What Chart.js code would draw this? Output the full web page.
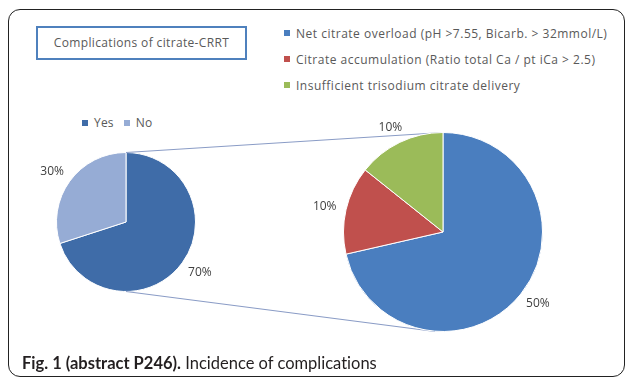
<!DOCTYPE html>
<html>
<head>
<meta charset="utf-8">
<script src="https://cdn.jsdelivr.net/npm/chart.js@4.4.0/dist/chart.umd.min.js"></script>
<style>
  body { margin: 0; background: #fff; width: 627px; height: 377px; overflow: hidden; position: relative; font-family: "Open Sans", sans-serif; }
  .frame { position: absolute; left: 8px; top: 9px; width: 615px; height: 366px; border: 1.5px solid #222; border-radius: 12px; }
  canvas { position: absolute; left: 0; top: 0; }
  .title-box { position: absolute; left: 36px; top: 26px; width: 207px; height: 30px; border: 2px solid #4f81bd; color: #595959; font-size: 12px; letter-spacing: 0.35px; line-height: 30px; text-align: center; }
  .legend { position: absolute; color: #595959; font-size: 12px; letter-spacing: 0.5px; }
  .legend .item { display: flex; align-items: center; white-space: nowrap; }
  .legend .box { width: 6px; height: 6px; margin-right: 6px; }
  #yesNo { left: 82px; top: 114px; display: flex; letter-spacing: 0.2px; }
  #yesNo .item { margin-right: 10px; }
  #causes { left: 284px; top: 20px; }
  #causes .item { height: 26px; }
  .caption { position: absolute; left: 22px; top: 353px; font-family: Lato, sans-serif; font-size: 16.5px; color: #231f20; font-variant-ligatures: none; }
</style>
</head>
<body>
<div class="frame"></div>
<div class="title-box">Complications of citrate-CRRT</div>
<div class="legend" id="yesNo"></div>
<div class="legend" id="causes"></div>
<canvas id="mainPie" width="627" height="377"></canvas>
<canvas id="detailPie" width="627" height="377"></canvas>
<div class="caption"><b>Fig. 1 (abstract P246).</b> Incidence of complications</div>

<script>
const mainLabels = ["Yes", "No"];
const mainValues = [70, 30];
const mainColors = ["#3f6ca8", "#96acd5"];

const detailLabels = [
    "Net citrate overload (pH >7.55, Bicarb. > 32mmol/L)",
    "Citrate accumulation (Ratio total Ca / pt iCa > 2.5)",
    "Insufficient trisodium citrate delivery"
];
const detailValues = [50, 10, 10];
const detailColors = ["#4a7ebf", "#c0504d", "#9bbb59"];

/* LEGENDS */
function buildLegend(id, labels, colors) {
    let el = document.getElementById(id);
    labels.forEach((name, i) => {
        let item = document.createElement("div");
        item.className = "item";
        item.innerHTML = '<span class="box" style="background:' + colors[i] + '"></span>' + name;
        el.appendChild(item);
    });
}
buildLegend("yesNo", mainLabels, mainColors);
buildLegend("causes", detailLabels, detailColors);

/* PERCENT LABELS outside each slice */
const percentLabels = {
    id: "percentLabels",
    afterDatasetsDraw(chart) {
        let ctx = chart.ctx;
        let values = chart.data.datasets[0].data;
        ctx.save();
        ctx.font = "12px 'Open Sans', sans-serif";
        ctx.fillStyle = "#404040";
        ctx.textAlign = "center";
        ctx.textBaseline = "middle";
        chart.getDatasetMeta(0).data.forEach((arc, i) => {
            let p = arc.getProps(["x", "y", "startAngle", "endAngle", "outerRadius"], true);
            let mid = (p.startAngle + p.endAngle) / 2;
            let text = values[i] + "%";
            let w = ctx.measureText(text).width;
            let r = p.outerRadius + 10;
            let x = p.x + Math.cos(mid) * r + Math.cos(mid) * w / 2;
            let y = p.y + Math.sin(mid) * r + Math.sin(mid) * 6;
            ctx.fillText(text, x, y);
        });
        ctx.restore();
    }
};

const pieOptions = (padding) => ({
    responsive: false,
    animation: false,
    layout: { padding: padding },
    plugins: { legend: { display: false }, tooltip: { enabled: false } }
});

/* LEFT PIE */
let mainChart = new Chart(document.getElementById("mainPie"), {
    type: "pie",
    data: {
        labels: mainLabels,
        datasets: [{ data: mainValues, backgroundColor: mainColors, borderColor: "#ffffff", borderWidth: 1 }]
    },
    options: pieOptions({ left: 56, top: 152, right: 431, bottom: 85 }),
    plugins: [percentLabels]
});

/* CONNECTOR lines from the small pie to the breakdown */
const connector = {
    id: "connector",
    beforeDatasetsDraw(chart) {
        let a = mainChart.getDatasetMeta(0).data[0];
        let b = chart.getDatasetMeta(0).data[0];
        let ctx = chart.ctx;
        ctx.save();
        ctx.strokeStyle = "#8a9cc6";
        ctx.lineWidth = 1.2;
        ctx.beginPath();
        ctx.moveTo(a.x, a.y - a.outerRadius);
        ctx.lineTo(b.x, b.y - b.outerRadius);
        ctx.moveTo(a.x, a.y + a.outerRadius);
        ctx.lineTo(b.x - 8, b.y + b.outerRadius);
        ctx.stroke();
        ctx.restore();
    }
};

/* RIGHT PIE */
new Chart(document.getElementById("detailPie"), {
    type: "pie",
    data: {
        labels: detailLabels,
        datasets: [{ data: detailValues, backgroundColor: detailColors, borderColor: "#ffffff", borderWidth: 1 }]
    },
    options: pieOptions({ left: 343, top: 132, right: 84, bottom: 45 }),
    plugins: [connector, percentLabels]
});
</script>
</body>
</html>
